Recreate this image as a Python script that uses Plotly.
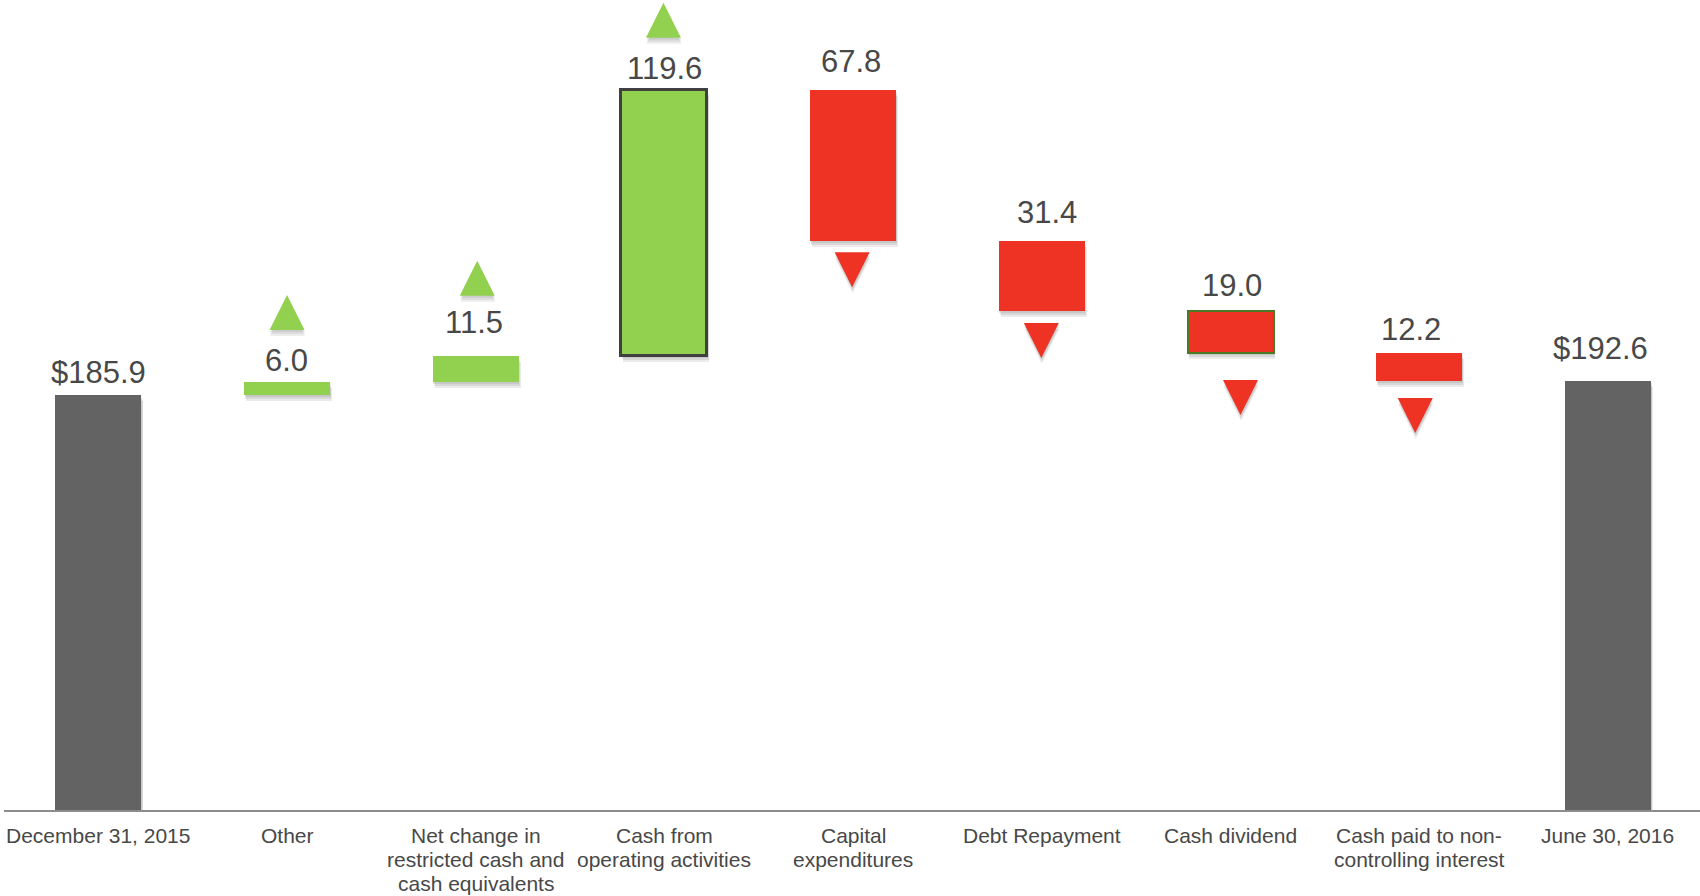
import plotly.graph_objects as go

# ---------------- data ----------------
categories = [
    "December 31, 2015",
    "Other",
    "Net change in<br>restricted cash and<br>cash equivalents",
    "Cash from<br>operating activities",
    "Capital<br>expenditures",
    "Debt Repayment",
    "Cash dividend",
    "Cash paid to non-<br>controlling interest",
    "June 30, 2016",
]
measures = ["absolute", "relative", "relative", "relative", "relative",
            "relative", "relative", "relative", "total"]
changes = [185.9, 6.0, 11.5, 119.6, -67.8, -31.4, -19.0, -12.2, 192.6]
value_labels = ["$185.9", "6.0", "11.5", "119.6", "67.8", "31.4", "19.0", "12.2", "$192.6"]

# ---------------- styles ----------------
GRAY = "#636363"
GREEN = "#92D050"
RED = "#EE3224"
TEXT = "#484848"
FONT = "Liberation Sans, Arial, sans-serif"

W, H = 1700, 896
M_L, M_R, M_T, M_B = 4, 0, 0, 86
PLOT_H = H - M_T - M_B
PPU = 2.23                      # pixels per data unit
Y_MAX = PLOT_H / PPU
X_MAX = len(categories) - 0.512
PX_PER_CAT = (W - M_L - M_R) / (X_MAX + 0.5)
BAR_W = 0.456

outline_w = [0, 0, 0, 3, 0, 0, 2, 0, 0]
outline_c = ["rgba(0,0,0,0)"] * 3 + ["#404040"] + ["rgba(0,0,0,0)"] * 2 + ["#4b7a26"] + ["rgba(0,0,0,0)"] * 2
label_yshift = [3.5, 2.5, 14.5, 2, 8.5, 8.5, 6, 4, 13]
label_xshift = [0, -1, -2, 0, -2, 5, 1, -8, -7]
arrow_gap_px = [None, 87, 95.7, 87, 46.4, 47.1, 61.7, 52.5, None]
arrow_dx_px = [0, 0, 1.5, -1, -1, -0.5, 10, -4, 0]
ARROW_SIZE = 35

# ---------------- derived geometry from data ----------------
xs = list(range(len(categories)))
bases, heights, colors, tops, bottoms = [], [], [], [], []
running = 0.0
for m, v in zip(measures, changes):
    if m in ("absolute", "total"):
        b, h = 0.0, v
        running = v
        colors.append(GRAY)
    else:
        start = running
        running = running + v
        b, h = min(start, running), abs(v)
        colors.append(GREEN if v > 0 else RED)
    bases.append(b)
    heights.append(h)
    bottoms.append(b)
    tops.append(b + h)

fig = go.Figure()

# soft shadows under bars
for k in (1, 2, 3):
    fig.add_trace(go.Bar(
        x=[x + k * 0.6 / PX_PER_CAT for x in xs],
        y=heights,
        base=[b - k * 2.0 / PPU for b in bases],
        width=BAR_W,
        marker=dict(color="rgba(0,0,0,0.08)", line=dict(width=0)),
        hoverinfo="skip", showlegend=False,
    ))

fig.add_trace(go.Bar(
    x=xs, y=heights, base=bases, width=BAR_W,
    marker=dict(color=colors, line=dict(width=outline_w, color=outline_c)),
    hoverinfo="skip", showlegend=False,
))

# arrows
ax_, ay_, asym, acol = [], [], [], []
for i, (m, v) in enumerate(zip(measures, changes)):
    if m != "relative":
        continue
    ax_.append(i + arrow_dx_px[i] / PX_PER_CAT)
    if v > 0:
        ay_.append(tops[i] + arrow_gap_px[i] / PPU)
        asym.append("arrow-up")
        acol.append(GREEN)
    else:
        ay_.append(bottoms[i] - arrow_gap_px[i] / PPU)
        asym.append("arrow-down")
        acol.append(RED)

for k in (1, 2, 3):
    fig.add_trace(go.Scatter(
        x=[x + 0.5 / PX_PER_CAT for x in ax_],
        y=[y - k * 2.0 / PPU for y in ay_],
        mode="markers",
        marker=dict(symbol=asym, size=ARROW_SIZE, color="rgba(0,0,0,0.07)", line=dict(width=0)),
        hoverinfo="skip", showlegend=False, cliponaxis=False,
    ))
fig.add_trace(go.Scatter(
    x=ax_, y=ay_, mode="markers",
    marker=dict(symbol=asym, size=ARROW_SIZE, color=acol, line=dict(width=0)),
    hoverinfo="skip", showlegend=False, cliponaxis=False,
))

annotations = []
# value labels
for i, lab in enumerate(value_labels):
    annotations.append(dict(
        x=i, y=tops[i], xref="x", yref="y", text=lab, showarrow=False,
        xanchor="center", yanchor="bottom",
        yshift=label_yshift[i], xshift=label_xshift[i],
        font=dict(family=FONT, size=31, color=TEXT),
    ))
# category labels (one annotation per line for tight line spacing)
for i, cat in enumerate(categories):
    for j, line in enumerate(cat.split("<br>")):
        annotations.append(dict(
            x=i, y=0, xref="x", yref="y", text=line, showarrow=False,
            xanchor="center", yanchor="top", yshift=-12 - 24.2 * j,
            font=dict(family=FONT, size=21, color=TEXT),
        ))

fig.update_layout(
    width=W, height=H,
    margin=dict(l=M_L, r=M_R, t=M_T, b=M_B, pad=0),
    paper_bgcolor="white", plot_bgcolor="white",
    barmode="overlay", bargap=0,
    showlegend=False,
    annotations=annotations,
    xaxis=dict(range=[-0.5, X_MAX], showgrid=False, zeroline=False,
               showticklabels=False, ticks="", showline=True, linecolor="#8c8c8c",
               linewidth=2, fixedrange=True),
    yaxis=dict(range=[0, Y_MAX], visible=False, showgrid=False, zeroline=False, fixedrange=True),
)

fig.write_html("out.html", config={"displayModeBar": False},
               post_script="document.body.style.margin='0';document.body.style.overflow='hidden';")
